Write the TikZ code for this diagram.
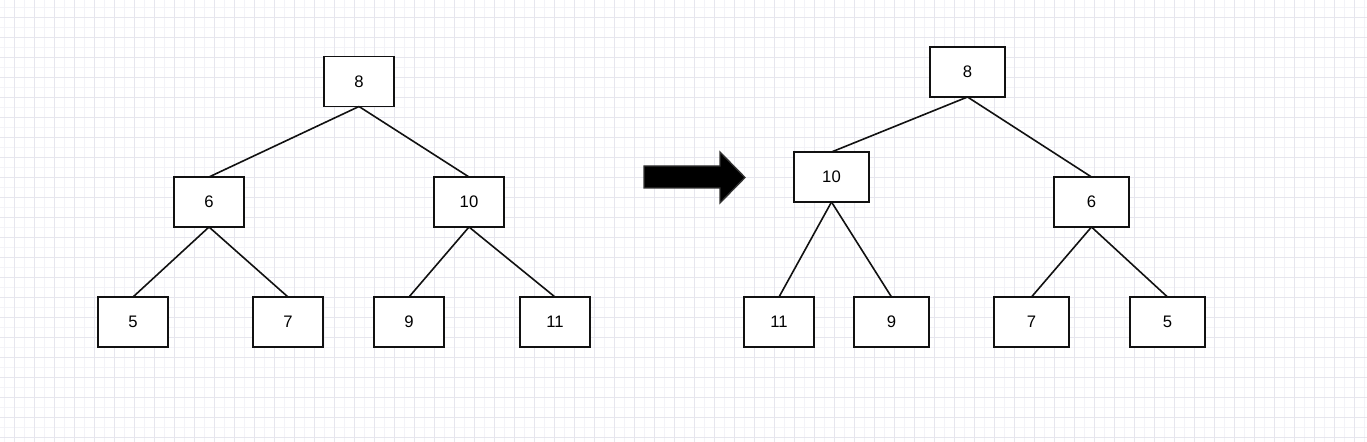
\documentclass[tikz,border=0pt]{standalone}
\usepackage{fontspec}
\setmainfont{Liberation Sans}
\definecolor{gridminor}{HTML}{F3F3F8}
\definecolor{gridmajor}{HTML}{E6E6EE}
\definecolor{edgecol}{HTML}{111111}
\begin{document}
\begin{tikzpicture}[x=0.75pt,y=-0.75pt,
  treebox/.style={draw=edgecol,line width=1.3pt,fill=white,minimum width=52.5pt,minimum height=37.5pt,inner sep=0pt,outer sep=0pt,font=\fontsize{12.5}{14}\selectfont},
  widebox/.style={treebox,minimum width=56.25pt},
  link/.style={draw=edgecol,line width=1.2pt},
  blockarrow/.style={fill=black,draw=black!80,line width=1pt,line join=miter}]
\useasboundingbox (0,0) rectangle (1367,442);
\fill[white] (0,0) rectangle (1367,442);
% grid
\foreach \gx in {4,24,...,1364} {\draw[gridminor,line width=0.6pt] (\gx,0) -- (\gx,442);}
\foreach \gy in {7,27,...,442} {\draw[gridminor,line width=0.6pt] (0,\gy) -- (1367,\gy);}
\foreach \gx in {14,34,...,1364} {\draw[gridmajor,line width=0.6pt] (\gx,0) -- (\gx,442);}
\foreach \gy in {17,37,...,442} {\draw[gridmajor,line width=0.6pt] (0,\gy) -- (1367,\gy);}
% left tree
\node[treebox] (l8) at (359,81.5) {8};
\node[treebox] (l6) at (209,202) {6};
\node[treebox] (l10) at (469,202) {10};
\node[treebox] (l5) at (133,322) {5};
\node[treebox] (l7) at (288,322) {7};
\node[treebox] (l9) at (409,322) {9};
\node[treebox] (l11) at (555,322) {11};
\draw[link] (l8.south) -- (l6.north);
\draw[link] (l8.south) -- (l10.north);
\draw[link] (l6.south) -- (l5.north);
\draw[link] (l6.south) -- (l7.north);
\draw[link] (l10.south) -- (l9.north);
\draw[link] (l10.south) -- (l11.north);
% arrow
\draw[blockarrow] (644,166) -- (720,166) -- (720,152) -- (745,177.5) -- (720,203) -- (720,188) -- (644,188) -- cycle;
% right tree
\node[widebox] (r8) at (967.5,72) {8};
\node[widebox] (r10) at (831.5,177) {10};
\node[widebox] (r6) at (1091.5,202) {6};
\node[treebox] (r11) at (779,322) {11};
\node[widebox] (r9) at (891.5,322) {9};
\node[widebox] (r7) at (1031.5,322) {7};
\node[widebox] (r5) at (1167.5,322) {5};
\draw[link] (r8.south) -- (r10.north);
\draw[link] (r8.south) -- (r6.north);
\draw[link] (r10.south) -- (r11.north);
\draw[link] (r10.south) -- (r9.north);
\draw[link] (r6.south) -- (r7.north);
\draw[link] (r6.south) -- (r5.north);
\end{tikzpicture}
\end{document}
